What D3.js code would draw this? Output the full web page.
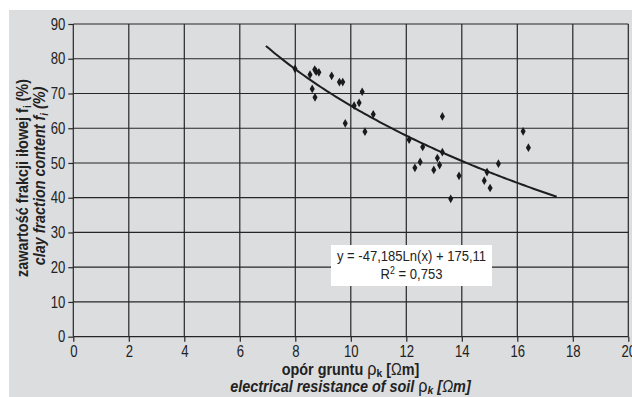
<!DOCTYPE html>
<html>
<head>
<meta charset="utf-8">
<script src="https://cdn.jsdelivr.net/npm/d3@7"></script>
<style>
  body { margin: 0; background: #fff; }
  text { font-family: "Liberation Sans", Arial, sans-serif; fill: #222; }
</style>
</head>
<body>
<div id="graph"></div>
<script>
let width = 632, height = 397;

// measured points: resistance (Ohm m) vs clay fraction (%)
const resistance = [7.99, 8.53, 8.70, 8.75, 8.85, 8.61, 8.71, 9.31, 9.59, 9.71, 9.80, 10.12, 10.30, 10.41, 10.51, 10.81,
  12.10, 12.31, 12.50, 12.59, 12.99, 13.12, 13.20, 13.30, 13.30, 13.60, 13.90, 14.81, 14.91, 15.02, 15.32, 16.21, 16.40];
const clay = [77.1, 75.4, 76.9, 76.3, 76.1, 71.3, 68.9, 75.1, 73.3, 73.3, 61.4, 66.5, 67.3, 70.5, 59.0, 64.0,
  56.7, 48.6, 50.3, 54.6, 48.0, 51.4, 49.4, 53.1, 63.4, 39.7, 46.3, 44.9, 47.4, 42.8, 49.8, 59.1, 54.4];

// trend line coefficients: y = a*ln(x) + b
const trendA = -47.185, trendB = 175.11;
const trendRange = [6.94, 17.42];

const xTicks = [0, 2, 4, 6, 8, 10, 12, 14, 16, 18, 20];
const yTicks = [0, 10, 20, 30, 40, 50, 60, 70, 80, 90];

const narrow = 0.82; // fake a condensed face
const titleNarrow = 0.9;

let svg = d3.select("#graph").append("svg")
  .attr("width", width)
  .attr("height", height);

// grey panel
svg.append("rect")
  .attr("x", 9).attr("y", 10)
  .attr("width", width - 9).attr("height", height - 10)
  .attr("fill", "#dcdddf");

let x = d3.scaleLinear().domain([0, 20]).range([73.3, 628.3]);
let y = d3.scaleLinear().domain([0, 90]).range([336.7, 24]);

// grid
let grid = svg.append("g").attr("id", "grid");
grid.selectAll("line.v").data(xTicks).enter().append("line")
  .attr("x1", d => x(d)).attr("x2", d => x(d))
  .attr("y1", y(0)).attr("y2", y(90))
  .attr("stroke", "#262626").attr("stroke-width", 1.2);
grid.selectAll("line.h").data(yTicks).enter().append("line")
  .attr("y1", d => y(d)).attr("y2", d => y(d))
  .attr("x1", x(0)).attr("x2", x(20))
  .attr("stroke", "#262626").attr("stroke-width", 1.2);

// axes
let xAxis = svg.append("g")
  .attr("transform", "translate(0," + y(0) + ")")
  .call(d3.axisBottom(x).tickValues(xTicks).tickSize(5).tickPadding(4));
let yAxis = svg.append("g")
  .attr("transform", "translate(" + x(0) + ",0)")
  .call(d3.axisLeft(y).tickValues(yTicks).tickSize(5).tickPadding(3));

[xAxis, yAxis].forEach(a => {
  a.select(".domain").remove();
  a.selectAll("line").attr("stroke", "#262626").attr("stroke-width", 1.2);
  a.selectAll("text").style("font-size", "16px").attr("fill", "#333")
    .style("font-family", "'Liberation Sans', Arial, sans-serif");
});
xAxis.selectAll("text").attr("transform", "scale(" + narrow + ",1)");
yAxis.selectAll("text").attr("x", -8 / narrow).attr("transform", "scale(" + narrow + ",1)");

// trend curve
let trendData = d3.range(0, 101).map(i => {
  let xv = trendRange[0] + (trendRange[1] - trendRange[0]) * i / 100;
  return [xv, trendA * Math.log(xv) + trendB];
});
svg.append("path")
  .datum(trendData)
  .attr("fill", "none")
  .attr("stroke", "#1e1e1e")
  .attr("stroke-width", 2)
  .attr("d", d3.line().x(d => x(d[0])).y(d => y(d[1])));

// points
svg.append("g").attr("id", "points")
  .selectAll("path")
  .data(resistance.map((r, i) => [r, clay[i]]))
  .enter().append("path")
  .attr("d", d3.symbol().type(d3.symbolDiamond).size(22))
  .attr("transform", d => "translate(" + x(d[0]) + "," + y(d[1]) + ")")
  .attr("fill", "#1a1a1a");

// helper: condensed text group
function label(tx, ty, rot, sx) {
  return svg.append("g")
    .attr("transform", "translate(" + tx + "," + ty + ") rotate(" + rot + ") scale(" + sx + ",1)")
    .append("text")
    .attr("text-anchor", "middle");
}

// equation box
svg.append("rect")
  .attr("x", 331).attr("y", 245).attr("width", 161).attr("height", 41)
  .attr("fill", "#fff");
label(411.5, 261, 0, 0.87).style("font-size", "15px")
  .text("y = -47,185Ln(x) + 175,11");
let r2 = label(411.5, 279, 0, 0.87).style("font-size", "15px");
r2.append("tspan").text("R");
r2.append("tspan").attr("dy", -5).style("font-size", "10px").text("2");
r2.append("tspan").attr("dy", 5).text(" = 0,753");

// x axis title
let xt1 = label(350.5, 374.5, 0, titleNarrow)
  .style("font-size", "16px").style("font-weight", "bold");
xt1.append("tspan").text("opór gruntu ");
xt1.append("tspan").style("font-weight", "normal").style("font-size", "18px").text("ρ");
xt1.append("tspan").attr("dy", 2.5).style("font-size", "11.5px").text("k");
xt1.append("tspan").attr("dy", -2.5).text(" [");
xt1.append("tspan").style("font-weight", "normal").text("Ω");
xt1.append("tspan").text("m]");

let xt2 = label(350.5, 391.5, 0, titleNarrow)
  .style("font-size", "16px").style("font-weight", "bold").style("font-style", "italic");
xt2.append("tspan").text("electrical resistance of soil ");
xt2.append("tspan").style("font-weight", "normal").style("font-style", "normal").style("font-size", "18px").text("ρ");
xt2.append("tspan").attr("dy", 2.5).style("font-size", "11.5px").text("k");
xt2.append("tspan").attr("dy", -2.5).text(" [");
xt2.append("tspan").style("font-weight", "normal").text("Ω");
xt2.append("tspan").text("m]");

// y axis title
let yt1 = label(28, 178, -90, titleNarrow)
  .style("font-size", "16px").style("font-weight", "bold");
yt1.append("tspan").text("zawartość frakcji iłowej f");
yt1.append("tspan").attr("dy", 3).style("font-size", "10.5px").text("i");
yt1.append("tspan").attr("dy", -3).text(" (%)");

let yt2 = label(44.5, 176, -90, titleNarrow)
  .style("font-size", "16px").style("font-weight", "bold").style("font-style", "italic");
yt2.append("tspan").text("clay fraction content f");
yt2.append("tspan").attr("dy", 3).style("font-size", "10.5px").text("i");
yt2.append("tspan").attr("dy", -3).text(" (%)");
</script>
</body>
</html>
